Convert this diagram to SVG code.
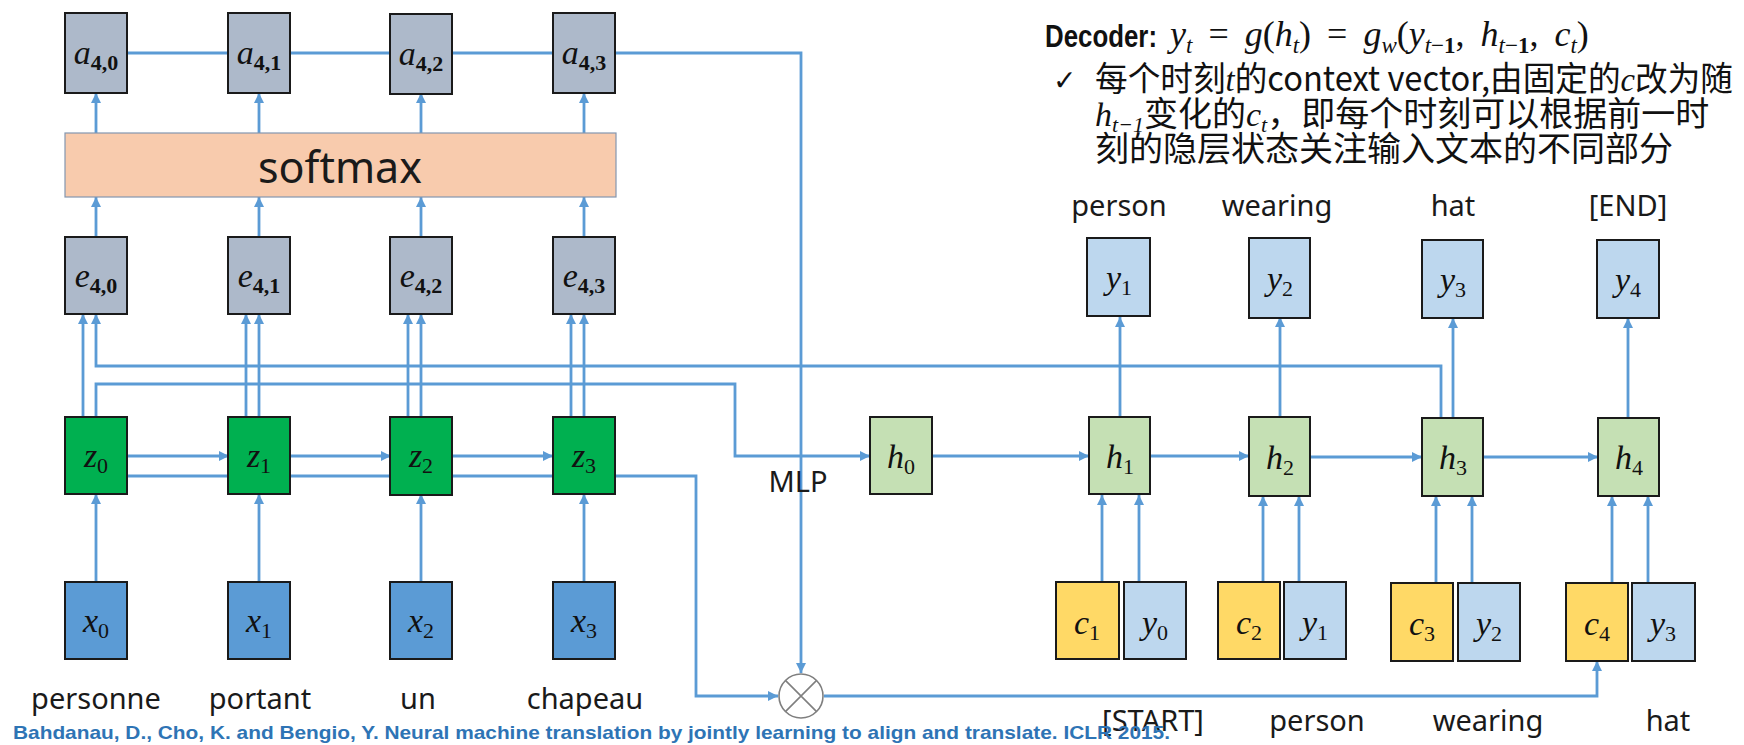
<svg xmlns="http://www.w3.org/2000/svg" width="1744" height="745" viewBox="0 0 1744 745">
<style>
.ln{fill:none;stroke:#5B9BD5;stroke-width:2.8}
.bx{stroke:#1a1a1a;stroke-width:2}
.ae{fill:#ADB9CA}
.z{fill:#00B050}
.x{fill:#5B9BD5}
.h{fill:#C5E0B4}
.y{fill:#BDD7EE}
.c{fill:#FFD966}
.m{font-family:"Liberation Serif",serif;font-style:italic;font-size:34px;fill:#111}
.sb{font-size:22px;font-style:normal}
.sbb{font-size:22px;font-style:normal;font-weight:bold}
.lb{font-family:"Noto Sans","Liberation Sans",sans-serif;font-size:29px;fill:#1a1a1a}
.cn{font-family:"Noto Sans CJK SC","Noto Sans",sans-serif;font-size:34px;fill:#111}
.it{font-family:"Liberation Serif",serif;font-style:italic}
.fi{font-style:italic}
.fs{font-size:23px}
</style>
<defs>
<marker id="ah" viewBox="0 0 10 10" refX="10" refY="5" markerWidth="11" markerHeight="10" markerUnits="userSpaceOnUse" orient="auto"><path d="M0,0 L10,5 L0,10 z" fill="#5B9BD5"/></marker>
</defs>
<rect width="1744" height="745" fill="#fff"/>

<g id="connectors">
<path class="ln" d="M127 53 H801 V673" marker-end="url(#ah)"/>
<path class="ln" d="M96 133 V93" marker-end="url(#ah)"/>
<path class="ln" d="M259 133 V93" marker-end="url(#ah)"/>
<path class="ln" d="M421 133 V93" marker-end="url(#ah)"/>
<path class="ln" d="M584 133 V93" marker-end="url(#ah)"/>
<path class="ln" d="M96 237 V197" marker-end="url(#ah)"/>
<path class="ln" d="M259 237 V197" marker-end="url(#ah)"/>
<path class="ln" d="M421 237 V197" marker-end="url(#ah)"/>
<path class="ln" d="M584 237 V197" marker-end="url(#ah)"/>
<path class="ln" d="M83 417 V314" marker-end="url(#ah)"/>
<path class="ln" d="M246 417 V314" marker-end="url(#ah)"/>
<path class="ln" d="M259 417 V314" marker-end="url(#ah)"/>
<path class="ln" d="M408 417 V314" marker-end="url(#ah)"/>
<path class="ln" d="M421 417 V314" marker-end="url(#ah)"/>
<path class="ln" d="M571 417 V314" marker-end="url(#ah)"/>
<path class="ln" d="M584 417 V314" marker-end="url(#ah)"/>
<path class="ln" d="M1441 418 V366 H96 V314" marker-end="url(#ah)"/>
<path class="ln" d="M96 417 V384 H735 V456 H870" marker-end="url(#ah)"/>
<path class="ln" d="M127 456 H229" marker-end="url(#ah)"/>
<path class="ln" d="M290 456 H391" marker-end="url(#ah)"/>
<path class="ln" d="M452 456 H553" marker-end="url(#ah)"/>
<path class="ln" d="M127 476 H696 V696 H778" marker-end="url(#ah)"/>
<path class="ln" d="M96 582 V494" marker-end="url(#ah)"/>
<path class="ln" d="M259 582 V494" marker-end="url(#ah)"/>
<path class="ln" d="M421 582 V494" marker-end="url(#ah)"/>
<path class="ln" d="M584 582 V494" marker-end="url(#ah)"/>
<path class="ln" d="M824 696 H1597 V661" marker-end="url(#ah)"/>
<path class="ln" d="M932 456 H1089" marker-end="url(#ah)"/>
<path class="ln" d="M1150 456 H1249" marker-end="url(#ah)"/>
<path class="ln" d="M1310 457 H1422" marker-end="url(#ah)"/>
<path class="ln" d="M1483 457 H1598" marker-end="url(#ah)"/>
<path class="ln" d="M1120 417 V317" marker-end="url(#ah)"/>
<path class="ln" d="M1280 417 V317" marker-end="url(#ah)"/>
<path class="ln" d="M1453 417 V318" marker-end="url(#ah)"/>
<path class="ln" d="M1628 418 V318" marker-end="url(#ah)"/>
<path class="ln" d="M1102 582 V495" marker-end="url(#ah)"/>
<path class="ln" d="M1139 582 V495" marker-end="url(#ah)"/>
<path class="ln" d="M1263 582 V496" marker-end="url(#ah)"/>
<path class="ln" d="M1299 582 V496" marker-end="url(#ah)"/>
<path class="ln" d="M1436 583 V496" marker-end="url(#ah)"/>
<path class="ln" d="M1472 583 V496" marker-end="url(#ah)"/>
<path class="ln" d="M1612 583 V496" marker-end="url(#ah)"/>
<path class="ln" d="M1648 583 V496" marker-end="url(#ah)"/>
</g>

<g id="a40"><rect class="bx ae" x="65" y="13" width="62" height="80"/><text class="m" x="96" y="64" text-anchor="middle">a<tspan class="sbb" dy="6">4,0</tspan></text></g>
<g id="a41"><rect class="bx ae" x="228" y="13" width="62" height="80"/><text class="m" x="259" y="64" text-anchor="middle">a<tspan class="sbb" dy="6">4,1</tspan></text></g>
<g id="a42"><rect class="bx ae" x="390" y="14" width="62" height="80"/><text class="m" x="421" y="65" text-anchor="middle">a<tspan class="sbb" dy="6">4,2</tspan></text></g>
<g id="a43"><rect class="bx ae" x="553" y="13" width="62" height="80"/><text class="m" x="584" y="64" text-anchor="middle">a<tspan class="sbb" dy="6">4,3</tspan></text></g>

<g id="softmax"><rect x="65" y="133" width="551" height="64" fill="#F8CBAD" stroke="#8497B0" stroke-width="1.2"/><text x="340" y="183" text-anchor="middle" font-family="'Noto Sans','Liberation Sans',sans-serif" font-size="43" fill="#1a1a1a">softmax</text></g>

<g id="e40"><rect class="bx ae" x="65" y="237" width="62" height="77"/><text class="m" x="96" y="287" text-anchor="middle">e<tspan class="sbb" dy="6">4,0</tspan></text></g>
<g id="e41"><rect class="bx ae" x="228" y="237" width="62" height="77"/><text class="m" x="259" y="287" text-anchor="middle">e<tspan class="sbb" dy="6">4,1</tspan></text></g>
<g id="e42"><rect class="bx ae" x="390" y="237" width="62" height="77"/><text class="m" x="421" y="287" text-anchor="middle">e<tspan class="sbb" dy="6">4,2</tspan></text></g>
<g id="e43"><rect class="bx ae" x="553" y="237" width="62" height="77"/><text class="m" x="584" y="287" text-anchor="middle">e<tspan class="sbb" dy="6">4,3</tspan></text></g>

<g id="z0"><rect class="bx z" x="65" y="417" width="62" height="77"/><text class="m" x="96" y="467" text-anchor="middle">z<tspan class="sb" dy="6">0</tspan></text></g>
<g id="z1"><rect class="bx z" x="228" y="417" width="62" height="77"/><text class="m" x="259" y="467" text-anchor="middle">z<tspan class="sb" dy="6">1</tspan></text></g>
<g id="z2"><rect class="bx z" x="390" y="417" width="62" height="78"/><text class="m" x="421" y="467" text-anchor="middle">z<tspan class="sb" dy="6">2</tspan></text></g>
<g id="z3"><rect class="bx z" x="553" y="417" width="62" height="77"/><text class="m" x="584" y="467" text-anchor="middle">z<tspan class="sb" dy="6">3</tspan></text></g>

<g id="x0"><rect class="bx x" x="65" y="582" width="62" height="77"/><text class="m" x="96" y="632" text-anchor="middle">x<tspan class="sb" dy="6">0</tspan></text></g>
<g id="x1"><rect class="bx x" x="228" y="582" width="62" height="77"/><text class="m" x="259" y="632" text-anchor="middle">x<tspan class="sb" dy="6">1</tspan></text></g>
<g id="x2"><rect class="bx x" x="390" y="582" width="62" height="77"/><text class="m" x="421" y="632" text-anchor="middle">x<tspan class="sb" dy="6">2</tspan></text></g>
<g id="x3"><rect class="bx x" x="553" y="582" width="62" height="77"/><text class="m" x="584" y="632" text-anchor="middle">x<tspan class="sb" dy="6">3</tspan></text></g>

<g id="src-labels">
<text class="lb" x="96" y="709" text-anchor="middle">personne</text>
<text class="lb" x="260" y="709" text-anchor="middle">portant</text>
<text class="lb" x="418" y="709" text-anchor="middle">un</text>
<text class="lb" x="585" y="709" text-anchor="middle">chapeau</text>
</g>

<g id="mult"><circle cx="801" cy="696" r="22" fill="#fff" stroke="#7F7F7F" stroke-width="1.6"/><path d="M785.4 680.4 L816.6 711.6 M816.6 680.4 L785.4 711.6" stroke="#7F7F7F" stroke-width="1.6"/></g>

<g id="mlp"><text class="lb" x="798" y="492" text-anchor="middle" font-size="30">MLP</text></g>

<g id="h0"><rect class="bx h" x="870" y="417" width="62" height="77"/><text class="m" x="901" y="468" text-anchor="middle">h<tspan class="sb" dy="6">0</tspan></text></g>
<g id="h1"><rect class="bx h" x="1089" y="417" width="61" height="77"/><text class="m" x="1120" y="468" text-anchor="middle">h<tspan class="sb" dy="6">1</tspan></text></g>
<g id="h2"><rect class="bx h" x="1249" y="417" width="61" height="79"/><text class="m" x="1280" y="469" text-anchor="middle">h<tspan class="sb" dy="6">2</tspan></text></g>
<g id="h3"><rect class="bx h" x="1422" y="418" width="61" height="78"/><text class="m" x="1453" y="469" text-anchor="middle">h<tspan class="sb" dy="6">3</tspan></text></g>
<g id="h4"><rect class="bx h" x="1598" y="418" width="61" height="78"/><text class="m" x="1629" y="469" text-anchor="middle">h<tspan class="sb" dy="6">4</tspan></text></g>

<g id="y1t"><rect class="bx y" x="1087" y="238" width="63" height="78"/><text class="m" x="1119" y="289" text-anchor="middle">y<tspan class="sb" dy="6">1</tspan></text></g>
<g id="y2t"><rect class="bx y" x="1249" y="238" width="61" height="80"/><text class="m" x="1280" y="290" text-anchor="middle">y<tspan class="sb" dy="6">2</tspan></text></g>
<g id="y3t"><rect class="bx y" x="1422" y="240" width="61" height="78"/><text class="m" x="1453" y="291" text-anchor="middle">y<tspan class="sb" dy="6">3</tspan></text></g>
<g id="y4t"><rect class="bx y" x="1597" y="240" width="62" height="78"/><text class="m" x="1628" y="291" text-anchor="middle">y<tspan class="sb" dy="6">4</tspan></text></g>

<g id="c1"><rect class="bx c" x="1056" y="582" width="63" height="77"/><text class="m" x="1087" y="634" text-anchor="middle">c<tspan class="sb" dy="6">1</tspan></text></g>
<g id="y0in"><rect class="bx y" x="1124" y="582" width="62" height="77"/><text class="m" x="1155" y="634" text-anchor="middle">y<tspan class="sb" dy="6">0</tspan></text></g>
<g id="c2"><rect class="bx c" x="1218" y="582" width="62" height="77"/><text class="m" x="1249" y="634" text-anchor="middle">c<tspan class="sb" dy="6">2</tspan></text></g>
<g id="y1in"><rect class="bx y" x="1284" y="582" width="62" height="77"/><text class="m" x="1315" y="634" text-anchor="middle">y<tspan class="sb" dy="6">1</tspan></text></g>
<g id="c3"><rect class="bx c" x="1391" y="583" width="62" height="78"/><text class="m" x="1422" y="635" text-anchor="middle">c<tspan class="sb" dy="6">3</tspan></text></g>
<g id="y2in"><rect class="bx y" x="1458" y="583" width="62" height="78"/><text class="m" x="1489" y="635" text-anchor="middle">y<tspan class="sb" dy="6">2</tspan></text></g>
<g id="c4"><rect class="bx c" x="1566" y="583" width="62" height="78"/><text class="m" x="1597" y="635" text-anchor="middle">c<tspan class="sb" dy="6">4</tspan></text></g>
<g id="y3in"><rect class="bx y" x="1632" y="583" width="63" height="78"/><text class="m" x="1663" y="635" text-anchor="middle">y<tspan class="sb" dy="6">3</tspan></text></g>

<g id="out-labels">
<text class="lb" x="1119" y="216" text-anchor="middle">person</text>
<text class="lb" x="1277" y="216" text-anchor="middle">wearing</text>
<text class="lb" x="1453" y="216" text-anchor="middle">hat</text>
<text class="lb" x="1628" y="216" text-anchor="middle">[END]</text>
</g>
<g id="in-labels">
<text class="lb" x="1153" y="731" text-anchor="middle">[START]</text>
<text class="lb" x="1317" y="731" text-anchor="middle">person</text>
<text class="lb" x="1488" y="731" text-anchor="middle">wearing</text>
<text class="lb" x="1668" y="731" text-anchor="middle">hat</text>
</g>

<g id="decoder-note">
<text x="1045" y="47" font-family="'Liberation Sans',sans-serif" font-weight="bold" font-size="31" fill="#111" textLength="112" lengthAdjust="spacingAndGlyphs">Decoder:</text>
<text x="1170" y="46" font-family="'Liberation Serif',serif" font-size="36" fill="#111" word-spacing="7"><tspan class="fi">y</tspan><tspan class="fi fs" dy="7">t</tspan><tspan dy="-7"> = </tspan><tspan class="fi">g</tspan>(<tspan class="fi">h</tspan><tspan class="fi fs" dy="7">t</tspan><tspan dy="-7">) = </tspan><tspan class="fi">g</tspan><tspan class="fi fs" dy="7">w</tspan><tspan dy="-7">(</tspan><tspan class="fi">y</tspan><tspan class="fs" dy="7"><tspan class="fi">t</tspan>−<tspan font-weight="bold">1</tspan></tspan><tspan dy="-7">, </tspan><tspan class="fi">h</tspan><tspan class="fs" dy="7"><tspan class="fi">t</tspan>−<tspan font-weight="bold">1</tspan></tspan><tspan dy="-7">, </tspan><tspan class="fi">c</tspan><tspan class="fi fs" dy="7">t</tspan><tspan dy="-7">)</tspan></text>
<text x="1053" y="90" font-family="'DejaVu Sans',sans-serif" font-size="28" fill="#111">✓</text>
<text class="cn" x="1095" y="91" textLength="638" lengthAdjust="spacingAndGlyphs">每个时刻<tspan class="it">t</tspan>的context vector,由固定的<tspan class="it">c</tspan>改为随</text>
<text class="cn" x="1095" y="126"><tspan class="it">h</tspan><tspan class="it" font-size="22" dy="6">t−1</tspan><tspan dy="-6">变化的</tspan><tspan class="it">c</tspan><tspan class="it" font-size="22" dy="6">t</tspan><tspan dy="-6">，即每个时刻可以根据前一时</tspan></text>
<text class="cn" x="1095" y="161">刻的隐层状态关注输入文本的不同部分</text>
</g>

<g id="citation"><text x="13" y="739" font-family="'Liberation Sans',sans-serif" font-weight="bold" font-size="19" fill="#2E74B5" textLength="1157" lengthAdjust="spacingAndGlyphs">Bahdanau, D., Cho, K. and Bengio, Y. Neural machine translation by jointly learning to align and translate. ICLR 2015.</text></g>
</svg>
